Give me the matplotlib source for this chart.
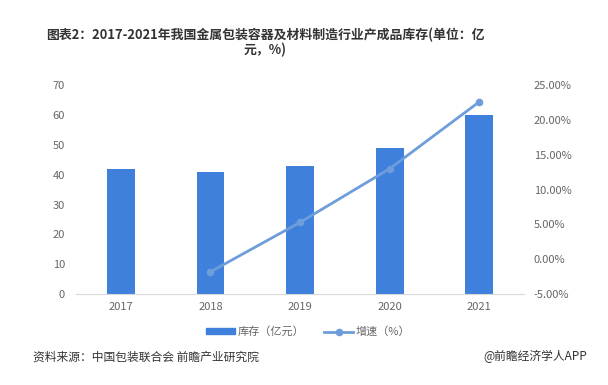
import numpy as np
import matplotlib.pyplot as plt
from matplotlib.lines import Line2D
from matplotlib.patches import Patch

plt.rcParams['font.family'] = ['Noto Sans CJK SC', 'DejaVu Sans']

# data
years = ['2017', '2018', '2019', '2020', '2021']
stock = [42, 41, 43, 49, 60]          # 库存（亿元）
growth_years = ['2018', '2019', '2020', '2021']
growth = [-1.8, 5.3, 13.0, 22.6]      # 增速（%）

bar_color = '#3f80dc'
line_color = '#6d9edb'
tick_color = '#666666'

fig = plt.figure(figsize=(6.08, 3.85), dpi=100)
ax = fig.add_axes([0.125, 0.236, 0.737, 0.543])

x = np.arange(len(years))
ax.bar(x, stock, width=0.31, color=bar_color, zorder=2)
ax.set_xlim(-0.5, len(years) - 0.5)
ax.set_ylim(0, 70)
ax.set_yticks(range(0, 71, 10))
ax.set_xticks(x)
ax.set_xticklabels(years)

for s in ['top', 'right', 'left']:
    ax.spines[s].set_visible(False)
ax.spines['bottom'].set_color('#d9d9d9')
ax.tick_params(axis='both', length=0, labelsize=8, colors=tick_color)
ax.tick_params(axis='y', pad=8)
ax.tick_params(axis='x', pad=6)

ax2 = ax.twinx()
gx = [years.index(y) for y in growth_years]
ax2.plot(gx, growth, color=line_color, lw=2, marker='o', ms=4.5, zorder=3)
ax2.set_ylim(-5, 25)
ax2.set_yticks(range(-5, 26, 5))
ax2.set_yticklabels([f'{v:.2f}%' for v in range(-5, 26, 5)])
for s in ['top', 'right', 'left', 'bottom']:
    ax2.spines[s].set_visible(False)
ax2.tick_params(axis='y', length=0, labelsize=8, colors=tick_color, pad=7)

fig.text(0.436, 0.908, '图表2：2017-2021年我国金属包装容器及材料制造行业产成品库存(单位：亿',
         ha='center', va='center', fontsize=9.3, fontweight='bold', color='#333333')
fig.text(0.436, 0.87, '元，%)', ha='center', va='center', fontsize=9.3,
         fontweight='bold', color='#333333')

handles = [Patch(color=bar_color),
           Line2D([0], [0], color=line_color, lw=2, marker='o', ms=4.5)]
fig.legend(handles, ['库存（亿元）', '增速（%）'], loc='center',
           bbox_to_anchor=(0.507, 0.138), ncol=2, frameon=False,
           fontsize=8, labelcolor=tick_color, handlelength=2.6,
           handleheight=0.5, columnspacing=1.8, handletextpad=0.2)

fig.text(0.054, 0.073, '资料来源：中国包装联合会 前瞻产业研究院', ha='left', va='center',
         fontsize=8.5, color='#333333')
fig.text(0.966, 0.073, '@前瞻经济学人APP', ha='right', va='center',
         fontsize=8.5, color='#333333')

fig.savefig('out.png', dpi=100)
